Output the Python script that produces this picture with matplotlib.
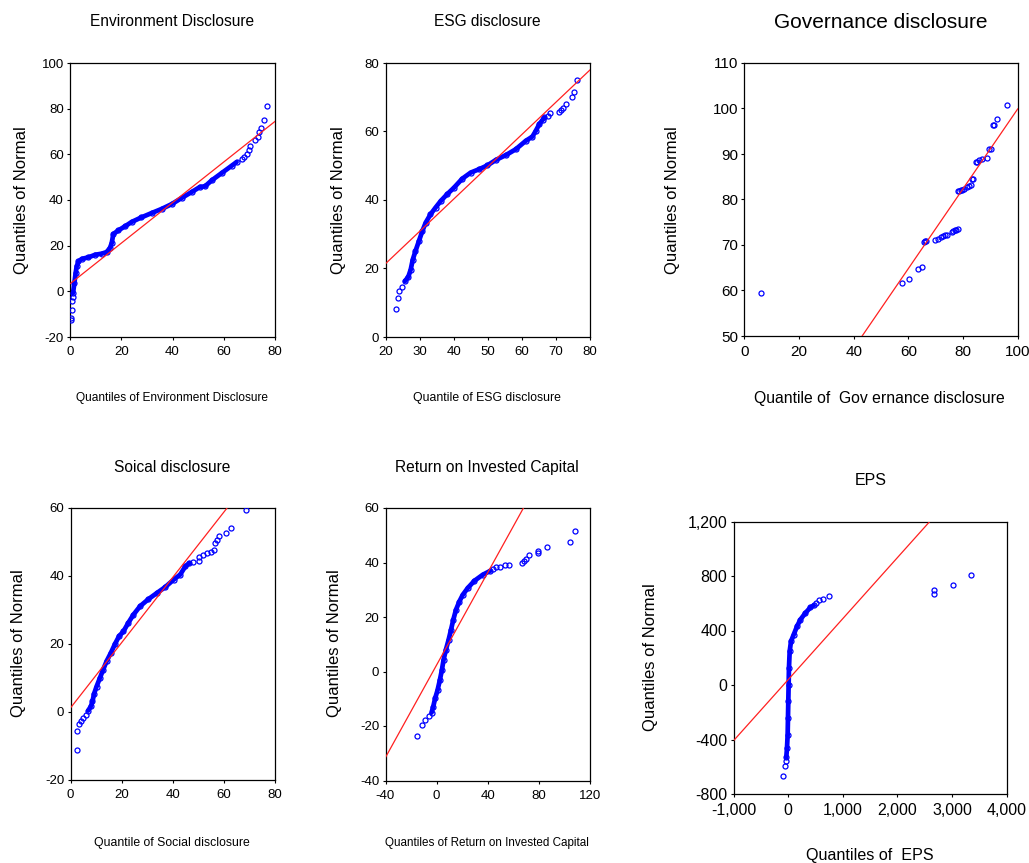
import numpy as np
import matplotlib.pyplot as plt
from matplotlib.ticker import FuncFormatter

plt.rcParams['axes.unicode_minus'] = False

NARROW = ['Liberation Sans', 'DejaVu Sans']
REG = ['Liberation Sans', 'DejaVu Sans']
BLUE = '#0000FF'
RED = '#FF2020'

# ---- Environment Disclosure (x = data quantile, y = normal quantile) ----
env_band_x = [1.2, 1.7, 2.2, 2.6, 3.3, 4.6, 7.2, 9.8, 12.4, 14.3, 15.6, 16.3, 16.9, 18.9, 21.5,
              24.1, 27.9, 31.9, 35.8, 39.7, 43.6, 47.5, 50.7, 52.7, 55.3, 59.2, 63.1, 65.0]
env_band_y = [-0.7, 3.6, 8.0, 10.9, 13.1, 14.2, 14.9, 16.0, 16.5, 17.2, 19.0, 21.2, 25.1, 26.7, 28.5,
              30.4, 32.4, 34.3, 36.1, 38.2, 40.9, 43.5, 45.7, 46.0, 48.6, 51.8, 55.0, 56.6]
env_pts_x = [0.4, 0.5, 0.65, 0.9, 1.0, 67.0, 68.0, 69.0, 70.0, 70.3, 72.0, 73.5, 73.8, 74.5, 75.7, 76.9]
env_pts_y = [-12.4, -11.5, -8.3, -4.4, -2.5, 58.0, 59.0, 60.1, 62.0, 63.8, 66.4, 67.6, 69.6, 71.5, 74.9, 81.3]
env_line = (3.3, 0.889)  # intercept, slope

# ---- ESG disclosure ----
esg_band_x = [25.7, 26.7, 27.4, 28.0, 28.8, 29.8, 30.8, 31.8, 33.2, 34.7, 36.2, 38.1, 40.1, 42.5,
              45.0, 47.5, 49.9, 52.4, 55.3, 58.2, 61.2, 63.1, 64.1, 65.1, 66.1, 66.6]
esg_band_y = [16.3, 17.6, 19.7, 22.6, 25.1, 28.0, 30.9, 33.4, 35.8, 37.8, 39.7, 41.7, 43.6, 46.2,
              48.0, 49.0, 50.1, 51.7, 53.1, 54.8, 57.3, 58.5, 60.2, 62.1, 63.4, 64.1]
esg_pts_x = [23.1, 23.6, 23.9, 24.7, 67.8, 68.3, 71.0, 71.6, 72.2, 72.9, 74.7, 75.2, 76.1]
esg_pts_y = [8.2, 11.4, 13.4, 14.5, 64.4, 65.3, 65.8, 66.3, 67.0, 68.0, 70.0, 71.6, 75.0]
esg_line = (2.54, 0.943)

# ---- Governance disclosure ----
gov_x = [6.0, 57.5, 60.1, 63.4, 65.0, 65.7, 66.2, 66.6, 69.8, 71.0, 71.8, 72.5, 73.3, 74.1, 75.9,
         76.5, 77.0, 77.5, 78.0, 78.2, 78.7, 79.2, 79.7, 80.2, 81.3, 82.3, 82.9, 83.2, 83.6,
         84.7, 85.2, 85.9, 87.1, 88.6, 89.6, 90.2, 90.8, 91.2, 92.3, 96.0]
gov_y = [59.4, 61.6, 62.6, 64.8, 65.2, 70.7, 70.8, 70.9, 71.0, 71.4, 71.8, 72.0, 72.1, 72.3, 72.9,
         73.0, 73.2, 73.4, 73.5, 81.9, 81.9, 82.0, 82.1, 82.3, 82.8, 83.0, 83.1, 84.6, 84.5,
         88.3, 88.2, 88.7, 89.0, 89.1, 91.2, 91.2, 96.4, 96.4, 97.7, 100.8]
gov_line = (12.2, 0.877)

# ---- Soical disclosure ----
soc_band_x = [6.9, 8.0, 8.6, 9.2, 10.2, 11.5, 12.8, 14.1, 15.8, 17.4, 19.0, 20.7, 22.6, 24.6,
              27.2, 30.5, 33.8, 37.0, 40.3, 42.9, 44.9, 46.5]
soc_band_y = [0.4, 1.7, 3.1, 5.3, 7.5, 10.0, 12.5, 14.9, 17.4, 20.0, 22.3, 23.7, 26.2, 28.6,
              31.1, 33.2, 35.0, 36.7, 38.9, 40.4, 42.8, 43.8]
soc_pts_x = [2.7, 2.7, 3.3, 4.1, 5.0, 5.9, 47.8, 50.1, 50.4, 51.7, 53.4, 54.8, 56.0, 56.7, 57.3,
             58.1, 61.0, 62.6, 68.5]
soc_pts_y = [-11.3, -5.7, -3.5, -2.5, -1.8, -0.8, 44.1, 44.3, 45.5, 46.1, 46.8, 47.1, 47.7, 49.7,
             50.7, 51.7, 52.6, 54.1, 59.5]
soc_line = (1.2, 0.96)

# ---- Return on Invested Capital ----
roic_band_x = [-4.0, -2.7, -1.2, 0.7, 2.5, 4.1, 5.4, 7.2, 9.3, 11.2, 13.0, 15.1, 17.7, 20.4,
               24.3, 29.6, 36.1, 41.9]
roic_band_y = [-15.1, -13.0, -9.9, -6.9, -3.2, 0.5, 4.2, 7.9, 11.5, 15.2, 18.9, 22.6, 25.6, 28.1,
               30.6, 33.3, 35.5, 36.9]
roic_pts_x = [-15.1, -11.1, -9.0, -5.9, 44.0, 46.6, 49.2, 53.2, 56.3, 67.1, 68.1, 70.2, 72.1,
              79.4, 79.4, 86.5, 104.4, 108.6]
roic_pts_y = [-23.7, -19.8, -17.9, -16.4, 37.6, 38.2, 38.5, 38.9, 39.1, 39.8, 40.6, 41.3, 42.6,
              43.4, 44.4, 45.6, 47.7, 51.7]
roic_line = (2.4, 0.848)

# ---- EPS ----
eps_band_x = [-34, -21, -9, -3, 3, 9, 15, 28, 52, 101, 162, 223, 315, 407, 468]
eps_band_y = [-531, -463, -365, -242, -120, 3, 125, 246, 320, 369, 430, 479, 528, 569, 584]
eps_pts_x = [-95, -52, -40, 517, 560, 633, 755, 2664, 2664, 3012, 3349]
eps_pts_y = [-670, -597, -555, 601, 625, 633, 650, 699, 667, 735, 811]
eps_line = (39.0, 0.448)

W, H = 1029, 863
fig = plt.figure(figsize=(W / 100, H / 100), dpi=100)


def rect(l, r, t, b):
    return [l / W, 1 - b / H, (r - l) / W, (b - t) / H]


def ftext(x, y, s, size, fam, rot=0):
    fig.text(x / W, 1 - y / H, s, fontsize=size, family=fam, rotation=rot,
             ha='center', va='center')


def qq_panel(box, xlim, ylim, xt, yt, band, pts, line, fam, tsize, fmt=None):
    ax = fig.add_axes(rect(*box))
    if band is not None:
        ax.plot(band[0], band[1], '-', color=BLUE, lw=3.4, solid_capstyle='round', zorder=2)
        ax.plot(band[0], band[1], 'o', mfc='none', mec=BLUE, ms=3.6, mew=0.9, zorder=3)
    ax.plot(pts[0], pts[1], 'o', mfc='none', mec=BLUE, ms=3.6, mew=0.9, zorder=3)
    ax.axline((0, line[0]), slope=line[1], color=RED, lw=0.9, zorder=4)
    ax.set_xlim(*xlim)
    ax.set_ylim(*ylim)
    ax.set_xticks(xt)
    ax.set_yticks(yt)
    if fmt is not None:
        ax.xaxis.set_major_formatter(fmt)
        ax.yaxis.set_major_formatter(fmt)
    for s in ax.spines.values():
        s.set_linewidth(0.9)
    ax.tick_params(direction='out', length=2.5, width=0.8, pad=2, top=False, right=False)
    ax.tick_params(axis='x', pad=4)
    for lab in ax.get_xticklabels() + ax.get_yticklabels():
        lab.set_family(fam)
        lab.set_fontsize(tsize)
    return ax


comma = FuncFormatter(lambda v, p: f'{int(v):,}')

qq_panel((70, 275, 63, 337), (0, 80), (-20, 100), [0, 20, 40, 60, 80], [-20, 0, 20, 40, 60, 80, 100],
         (env_band_x, env_band_y), (env_pts_x, env_pts_y), env_line, NARROW, 9.5)
ftext(172, 22, 'Environment Disclosure', 11.2, NARROW)
ftext(22, 200, 'Quantiles of Normal', 12, REG, 90)
ftext(172, 398, 'Quantiles of Environment Disclosure', 8.6, NARROW)

qq_panel((385.5, 590, 63, 337), (20, 80), (0, 80), [20, 30, 40, 50, 60, 70, 80], [0, 20, 40, 60, 80],
         (esg_band_x, esg_band_y), (esg_pts_x, esg_pts_y), esg_line, NARROW, 9.5)
ftext(487, 22, 'ESG disclosure', 11.2, NARROW)
ftext(338, 200, 'Quantiles of Normal', 12, REG, 90)
ftext(487, 398, 'Quantile of ESG disclosure', 8.8, NARROW)

qq_panel((744.3, 1017.7, 63, 336), (0, 100), (50, 110), [0, 20, 40, 60, 80, 100],
         [50, 60, 70, 80, 90, 100, 110],
         None, (gov_x, gov_y), gov_line, REG, 11)
ftext(881, 22, 'Governance disclosure', 15, REG)
ftext(673, 200, 'Quantiles of Normal', 12, REG, 90)
ftext(879, 399, 'Quantile of  Gov ernance disclosure', 11.3, REG)

qq_panel((70.5, 275, 508, 780), (0, 80), (-20, 60), [0, 20, 40, 60, 80], [-20, 0, 20, 40, 60],
         (soc_band_x, soc_band_y), (soc_pts_x, soc_pts_y), soc_line, NARROW, 9.5)
ftext(172, 467, 'Soical disclosure', 11.2, NARROW)
ftext(19, 643, 'Quantiles of Normal', 12, REG, 90)
ftext(172, 843, 'Quantile of Social disclosure', 8.8, NARROW)

qq_panel((385.5, 590, 508, 780.5), (-40, 120), (-40, 60), [-40, 0, 40, 80, 120],
         [-40, -20, 0, 20, 40, 60],
         (roic_band_x, roic_band_y), (roic_pts_x, roic_pts_y), roic_line, NARROW, 9.5)
ftext(487, 467, 'Return on Invested Capital', 11.2, NARROW)
ftext(334, 643, 'Quantiles of Normal', 12, REG, 90)
ftext(487, 843, 'Quantiles of Return on Invested Capital', 8.4, NARROW)

qq_panel((733.5, 1006.7, 521.5, 794), (-1000, 4000), (-800, 1200),
         [-1000, 0, 1000, 2000, 3000, 4000], [-800, -400, 0, 400, 800, 1200],
         (eps_band_x, eps_band_y), (eps_pts_x, eps_pts_y), eps_line, REG, 11.5, comma)
ftext(871, 480, 'EPS', 11.5, NARROW)
ftext(650, 657, 'Quantiles of Normal', 12, REG, 90)
ftext(870, 855, 'Quantiles of  EPS', 11.6, REG)

fig.savefig('out.png', dpi=100)
